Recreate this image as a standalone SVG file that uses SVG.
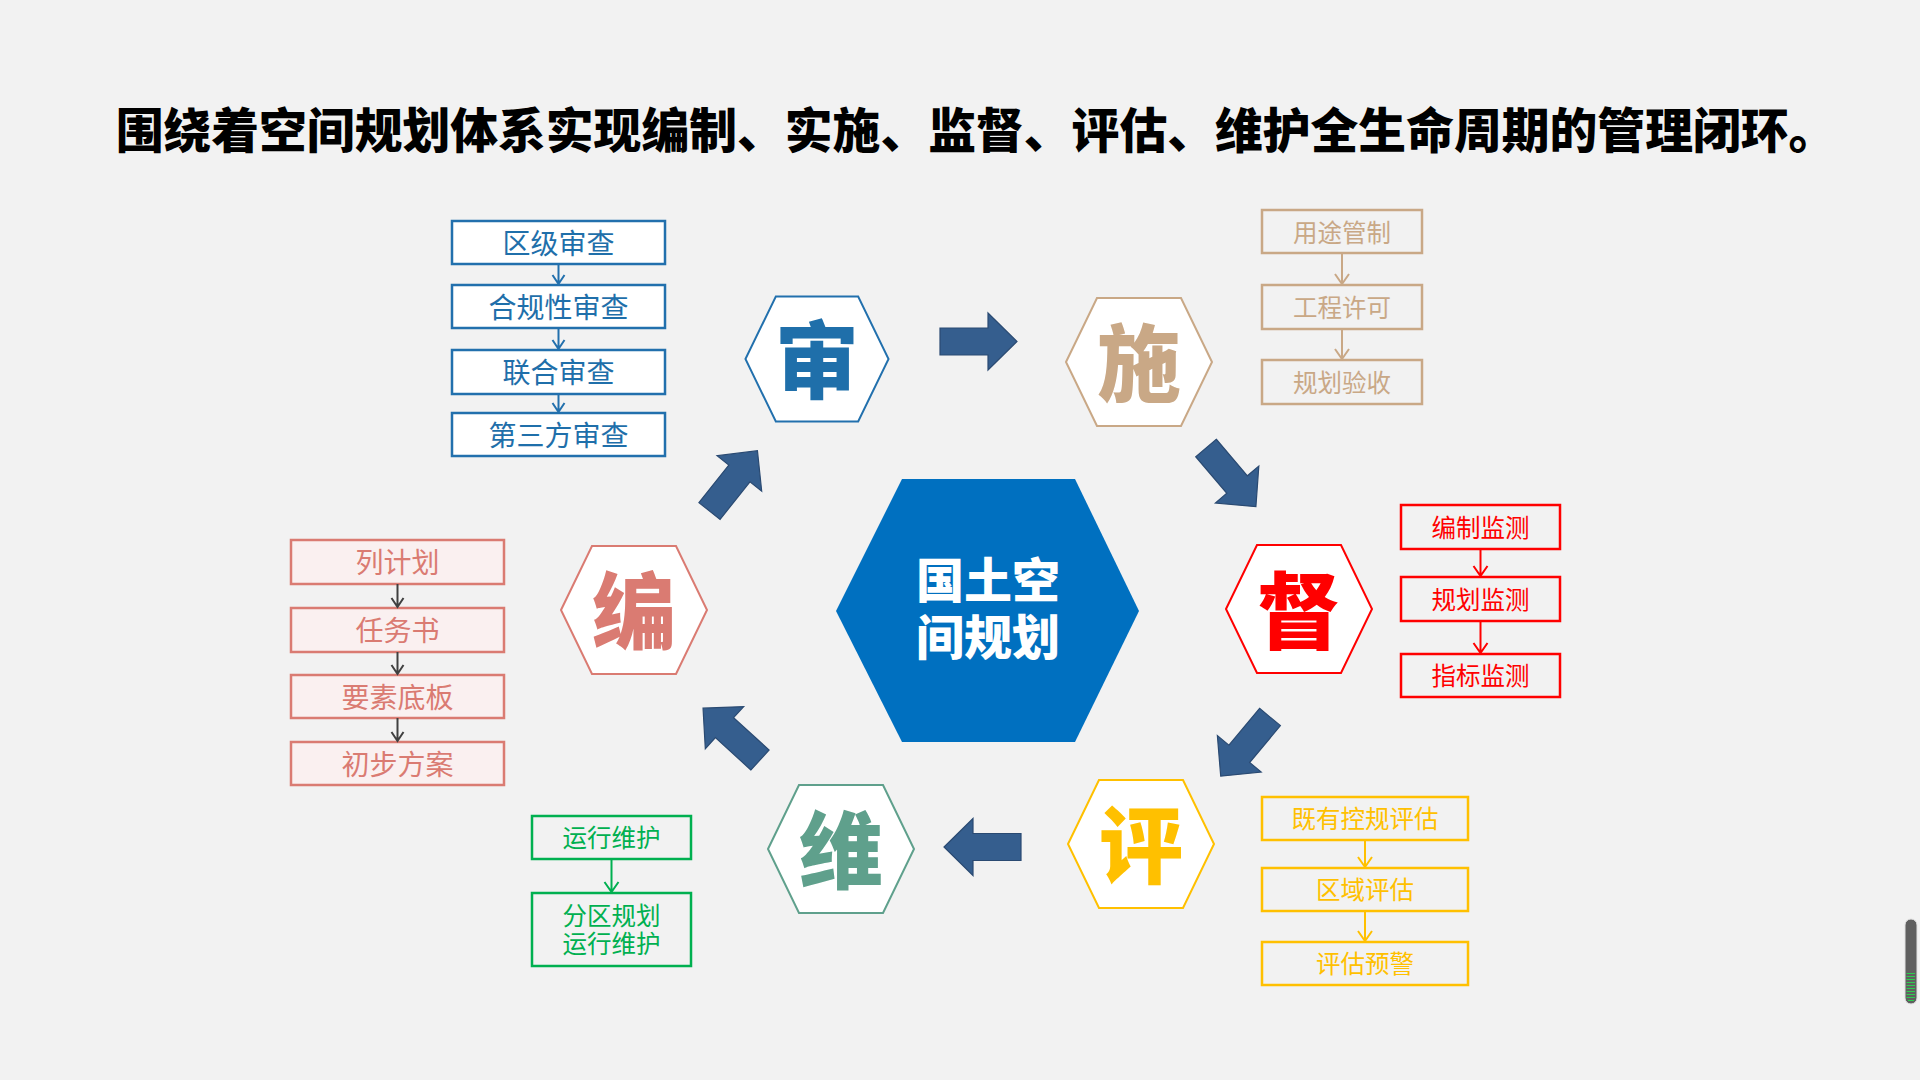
<svg xmlns="http://www.w3.org/2000/svg" xmlns:xlink="http://www.w3.org/1999/xlink" width="1920" height="1080" viewBox="0 0 1920 1080">
<style>
text{font-family:"Noto Sans CJK SC","Microsoft YaHei",sans-serif;text-anchor:middle;dominant-baseline:central}
.title{font-size:47.8px;font-weight:900;fill:#000}
.hexc{font-size:84px;font-weight:900}
.bx{stroke-width:2.5}
.t27{font-size:28px}
.t24{font-size:24.5px}
.blk{fill:#355E8E;stroke:#2A4A72;stroke-width:1.2}
.con{fill:none;stroke-width:2}
</style>
<defs>
<polygon id="hex" points="-73,0 -42,-64 42,-64 73,0 42,64 -42,64"/>
<path id="arr" d="M0,-13.5 L48,-13.5 L48,-28.5 L77,0 L48,28.5 L48,13.5 L0,13.5 Z"/>
</defs>
<rect x="0" y="0" width="1920" height="1080" fill="#F2F2F2"/>
<text class="title" x="976" y="127">围绕着空间规划体系实现编制、实施、监督、评估、维护全生命周期的管理闭环。</text>

<g id="center">
<polygon points="836,611 902,479 1075,479 1139,611 1075,742 902,742" fill="#0070C0"/>
<text x="988" y="577" style="font-size:48px;font-weight:900;fill:#fff">国土空</text>
<text x="988" y="634" style="font-size:48px;font-weight:900;fill:#fff">间规划</text>
</g>

<g id="hex-shen">
<use xlink:href="#hex" href="#hex" transform="translate(817,359) scale(0.98,0.977)" fill="#fff" stroke="#2270AD" stroke-width="2"/>
<text class="hexc" x="817" y="355" fill="#1F6FAA">审</text>
</g>
<g id="hex-shi">
<use xlink:href="#hex" href="#hex" transform="translate(1139,362)" fill="#fff" stroke="#C9A886" stroke-width="2"/>
<text class="hexc" x="1139" y="358" fill="#C9A886">施</text>
</g>
<g id="hex-du">
<use xlink:href="#hex" href="#hex" transform="translate(1299,609)" fill="#fff" stroke="#FF0000" stroke-width="2"/>
<text class="hexc" x="1299" y="606" fill="#FF0000">督</text>
</g>
<g id="hex-ping">
<use xlink:href="#hex" href="#hex" transform="translate(1141,844)" fill="#fff" stroke="#FFC000" stroke-width="2"/>
<text class="hexc" x="1141" y="840" fill="#FFC000">评</text>
</g>
<g id="hex-wei">
<use xlink:href="#hex" href="#hex" transform="translate(841,849)" fill="#fff" stroke="#5FA08C" stroke-width="2"/>
<text class="hexc" x="841" y="845" fill="#5FA08C">维</text>
</g>
<g id="hex-bian">
<use xlink:href="#hex" href="#hex" transform="translate(634,610)" fill="#fff" stroke="#DA7B72" stroke-width="2"/>
<text class="hexc" x="634" y="606" fill="#DA7B72">编</text>
</g>

<g id="blue-boxes" fill="#fff" stroke="#2270AD">
<rect class="bx" x="452" y="221" width="213" height="43"/>
<rect class="bx" x="452" y="285" width="213" height="43"/>
<rect class="bx" x="452" y="350" width="213" height="44"/>
<rect class="bx" x="452" y="413" width="213" height="43"/>
</g>
<g id="blue-text" fill="#1F6FAA">
<text class="t27" x="558.5" y="241.5">区级审查</text>
<text class="t27" x="558.5" y="305.5">合规性审查</text>
<text class="t27" x="558.5" y="371">联合审查</text>
<text class="t27" x="558.5" y="433.5">第三方审查</text>
</g>

<g id="tan-boxes" fill="none" stroke="#C9A886">
<rect class="bx" x="1262" y="210" width="160" height="43"/>
<rect class="bx" x="1262" y="285" width="160" height="44"/>
<rect class="bx" x="1262" y="360" width="160" height="44"/>
</g>
<g fill="#C9A886">
<text class="t24" x="1342" y="231">用途管制</text>
<text class="t24" x="1342" y="306">工程许可</text>
<text class="t24" x="1342" y="381">规划验收</text>
</g>

<g id="red-boxes" fill="none" stroke="#FF0000">
<rect class="bx" x="1401" y="505" width="159" height="44"/>
<rect class="bx" x="1401" y="577" width="159" height="44"/>
<rect class="bx" x="1401" y="654" width="159" height="43"/>
</g>
<g fill="#FF0000">
<text class="t24" x="1480.5" y="526">编制监测</text>
<text class="t24" x="1480.5" y="598">规划监测</text>
<text class="t24" x="1480.5" y="674.5">指标监测</text>
</g>

<g id="yellow-boxes" fill="none" stroke="#FFC000">
<rect class="bx" x="1262" y="797" width="206" height="43"/>
<rect class="bx" x="1262" y="868" width="206" height="43"/>
<rect class="bx" x="1262" y="942" width="206" height="43"/>
</g>
<g fill="#FFC000">
<text class="t24" x="1365" y="817.5">既有控规评估</text>
<text class="t24" x="1365" y="888.5">区域评估</text>
<text class="t24" x="1365" y="962.5">评估预警</text>
</g>

<g id="green-boxes" fill="none" stroke="#00B050">
<rect class="bx" x="532" y="816" width="159" height="43"/>
<rect class="bx" x="532" y="893" width="159" height="73"/>
</g>
<g fill="#00B050">
<text class="t24" x="611.5" y="836.5">运行维护</text>
<text class="t24" x="611.5" y="914">分区规划</text>
<text class="t24" x="611.5" y="942">运行维护</text>
</g>

<g id="pink-boxes" fill="#FAF0F0" stroke="#DA7B72">
<rect class="bx" x="291" y="540" width="213" height="44"/>
<rect class="bx" x="291" y="608" width="213" height="44"/>
<rect class="bx" x="291" y="675" width="213" height="43"/>
<rect class="bx" x="291" y="742" width="213" height="43"/>
</g>
<g fill="#DA7B72">
<text class="t27" x="397.5" y="561">列计划</text>
<text class="t27" x="397.5" y="629">任务书</text>
<text class="t27" x="397.5" y="695.5">要素底板</text>
<text class="t27" x="397.5" y="762.5">初步方案</text>
</g>

<g id="connectors">
<path class="con" stroke="#2270AD" d="M558.5,264 V284 M552.5,275 L558.5,284 L564.5,275 M558.5,328 V349 M552.5,340 L558.5,349 L564.5,340 M558.5,394 V412 M552.5,403 L558.5,412 L564.5,403"/>
<path class="con" stroke="#C9A886" d="M1342,253 V284 M1335,274 L1342,284 L1349,274 M1342,329 V359 M1335,349 L1342,359 L1349,349"/>
<path class="con" stroke="#FF0000" d="M1480.5,549 V576 M1473.5,566 L1480.5,576 L1487.5,566 M1480.5,621 V653 M1473.5,643 L1480.5,653 L1487.5,643"/>
<path class="con" stroke="#FFC000" d="M1365,840 V867 M1358,857 L1365,867 L1372,857 M1365,911 V941 M1358,931 L1365,941 L1372,931"/>
<path class="con" stroke="#00B050" d="M611.5,859 V892 M604.5,882 L611.5,892 L618.5,882"/>
<path class="con" stroke="#404040" d="M397.5,584 V607 M391.5,598 L397.5,607 L403.5,598 M397.5,652 V674 M391.5,665 L397.5,674 L403.5,665 M397.5,718 V741 M391.5,732 L397.5,741 L403.5,732"/>
<use xlink:href="#arr" href="#arr" class="blk" transform="translate(709.5,511) rotate(-51.5)"/>
<use xlink:href="#arr" href="#arr" class="blk" transform="translate(940,341.5)"/>
<use xlink:href="#arr" href="#arr" class="blk" transform="translate(1206,448) rotate(49.6)"/>
<use xlink:href="#arr" href="#arr" class="blk" transform="translate(1270,717) rotate(129.8)"/>
<use xlink:href="#arr" href="#arr" class="blk" transform="translate(1021,847) rotate(180)"/>
<use xlink:href="#arr" href="#arr" class="blk" transform="translate(760,760) rotate(-137.7)"/>
</g>

<g id="indicator">
<rect x="1905" y="919" width="12" height="85" rx="6" fill="#606060" stroke="#E0E0E0" stroke-width="1"/>
<path d="M1906.5,973.5 H1915 M1906.5,976.5 H1915 M1906.5,979.5 H1915 M1906.5,982.5 H1915 M1906.5,985.5 H1915 M1906.5,988.5 H1915 M1906.5,991.5 H1915 M1906.5,994.5 H1915 M1906.5,997.5 H1915 M1908,1000.5 H1914" stroke="#2ECC50" stroke-width="1.2"/>
</g>
</svg>
